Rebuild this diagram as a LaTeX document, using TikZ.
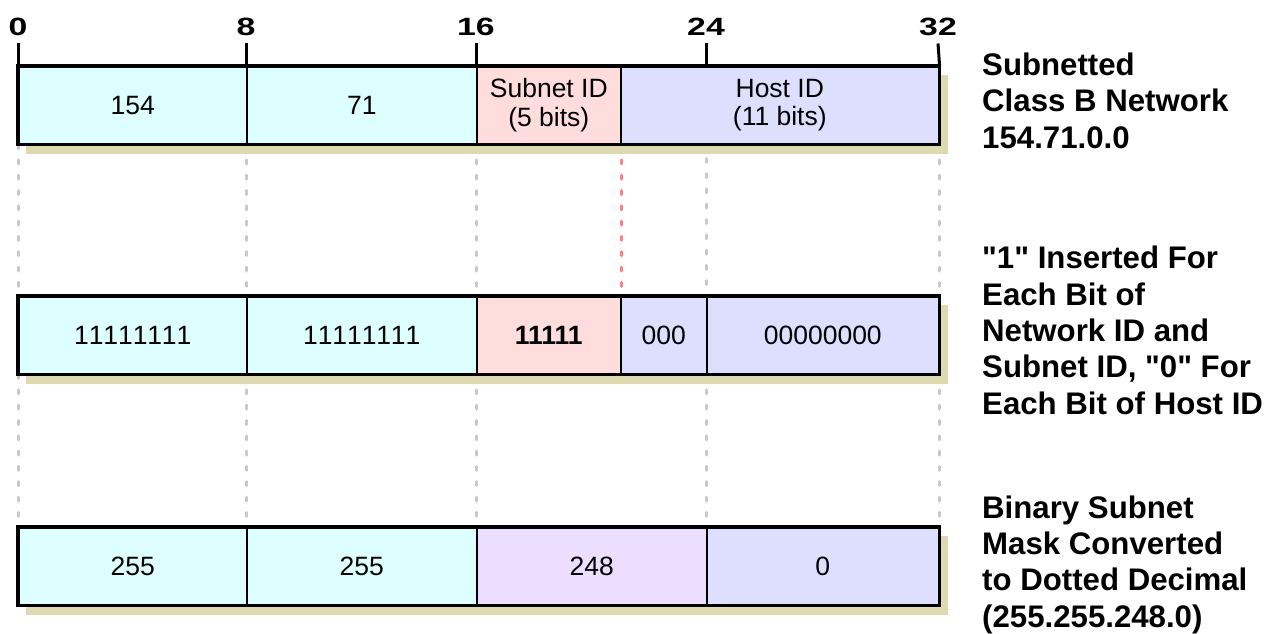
\documentclass[tikz,border=0pt]{standalone}
\usepackage{fontspec}
\setmainfont{Liberation Sans}[Ligatures=TeXOff]
\definecolor{netc}{RGB}{221,255,255}
\definecolor{subc}{RGB}{255,221,221}
\definecolor{hostc}{RGB}{222,222,255}
\definecolor{maskc}{RGB}{237,222,255}
\definecolor{shadowc}{RGB}{221,218,178}
\definecolor{gridc}{RGB}{200,200,200}
\definecolor{redc}{RGB}{255,128,128}
\pgfdeclarelayer{bg}
\pgfsetlayers{bg,main}
\begin{document}
\begin{tikzpicture}[x=1pt,y=-1pt,
  fld/.style={draw=black, line width=1.6pt, minimum height=77pt, inner sep=0pt,
    anchor=north west, align=center, font=\fontsize{26.5}{28.5}\selectfont},
  outer/.style={draw=black, line width=3.4pt},
  shadowfill/.style={fill=shadowc},
  gridline/.style={draw=gridc, line width=3pt, line cap=round, dash pattern=on 4pt off 11.3pt},
  redline/.style={draw=redc, line width=3pt, line cap=round, dash pattern=on 4pt off 11.3pt},
  tickline/.style={draw=black, line width=3pt},
  bitlbl/.style={anchor=base, inner sep=0pt, font=\bfseries\fontsize{25}{30}\selectfont\addfontfeature{FakeStretch=1.35}},
  sidelbl/.style={anchor=base west, align=left, inner sep=0pt, font=\bfseries\fontsize{31.2}{36.3}\selectfont}]
\useasboundingbox (0,0) rectangle (1278,633);

% bar 1
\node[fld, fill=netc,  minimum width=228pt] (a1) at (18,66)  {154};
\node[fld, fill=netc,  minimum width=230pt] (a2) at (246,66) {71};
\node[fld, fill=subc,  minimum width=144pt] (a3) at (476,66) {Subnet ID\\(5 bits)};
\node[fld, fill=hostc, minimum width=318pt] (a4) at (620,66) {Host ID\\(11 bits)};
\coordinate (a24t) at (706,66);
\coordinate (a24b) at (706,143);
\draw[outer] (a1.north west) rectangle (a4.south east);

% bar 2
\node[fld, fill=netc,  minimum width=228pt] (b1) at (18,296)  {\addfontfeature{LetterSpace=7}11111111};
\node[fld, fill=netc,  minimum width=230pt] (b2) at (246,296) {\addfontfeature{LetterSpace=7}11111111};
\node[fld, fill=subc,  minimum width=144pt] (b3) at (476,296) {\bfseries 11111};
\node[fld, fill=hostc, minimum width=86pt]  (b4) at (620,296) {000};
\node[fld, fill=hostc, minimum width=232pt] (b5) at (706,296) {00000000};
\draw[outer] (b1.north west) rectangle (b5.south east);

% bar 3
\node[fld, fill=netc,  minimum width=228pt] (c1) at (18,527)  {255};
\node[fld, fill=netc,  minimum width=230pt] (c2) at (246,527) {255};
\node[fld, fill=maskc, minimum width=230pt] (c3) at (476,527) {248};
\node[fld, fill=hostc, minimum width=232pt] (c4) at (706,527) {0};
\draw[outer] (c1.north west) rectangle (c4.south east);

% bit position labels and ticks
\node[bitlbl] (t0)  at (18,35)  {0};
\node[bitlbl] (t8)  at (246,35) {8};
\node[bitlbl] (t16) at (476,35) {16};
\node[bitlbl] (t24) at (706,35) {24};
\node[bitlbl] (t32) at (938,35) {32};
\draw[tickline] ([yshift=-8pt]t0.south)  -- (a1.north west);
\draw[tickline] ([yshift=-8pt]t8.south)  -- (a2.north west);
\draw[tickline] ([yshift=-8pt]t16.south) -- (a3.north west);
\draw[tickline] ([yshift=-8pt]t24.south) -- (a24t);
\draw[tickline] ([yshift=-8pt]t32.south) -- (a4.north east);

% side labels (anchored at the baseline of the last line)
\node[sidelbl] (l1) at (982,148) {Subnetted\\Class B Network\\154.71.0.0};
\node[sidelbl] (l2) at (982,414) {"1" Inserted For\\Each Bit of\\Network ID and\\Subnet ID, "0" For\\Each Bit of Host ID};
\node[sidelbl] (l3) at (982,627) {Binary Subnet\\Mask Converted\\to Dotted Decimal\\(255.255.248.0)};

\begin{pgfonlayer}{bg}
  % guide lines
  \draw[gridline] (a1.south west) -- (b1.north west);
  \draw[gridline] (a2.south west) -- (b2.north west);
  \draw[gridline] (a3.south west) -- (b3.north west);
  \draw[gridline] (a24b) -- (b5.north west);
  \draw[gridline] (a4.south east) -- (b5.north east);
  \draw[redline]  (a3.south east) -- (b3.north east);
  \draw[gridline] (b1.south west) -- (c1.north west);
  \draw[gridline] (b2.south west) -- (c2.north west);
  \draw[gridline] (b3.south west) -- (c3.north west);
  \draw[gridline] (b5.south west) -- (c4.north west);
  \draw[gridline] (b5.south east) -- (c4.north east);
  % shadows
  \fill[shadowfill] ([shift={(8,9)}]a1.north west) rectangle ([shift={(8,9)}]a4.south east);
  \fill[shadowfill] ([shift={(8,9)}]b1.north west) rectangle ([shift={(8,9)}]b5.south east);
  \fill[shadowfill] ([shift={(8,9)}]c1.north west) rectangle ([shift={(8,9)}]c4.south east);
\end{pgfonlayer}
\end{tikzpicture}
\end{document}
